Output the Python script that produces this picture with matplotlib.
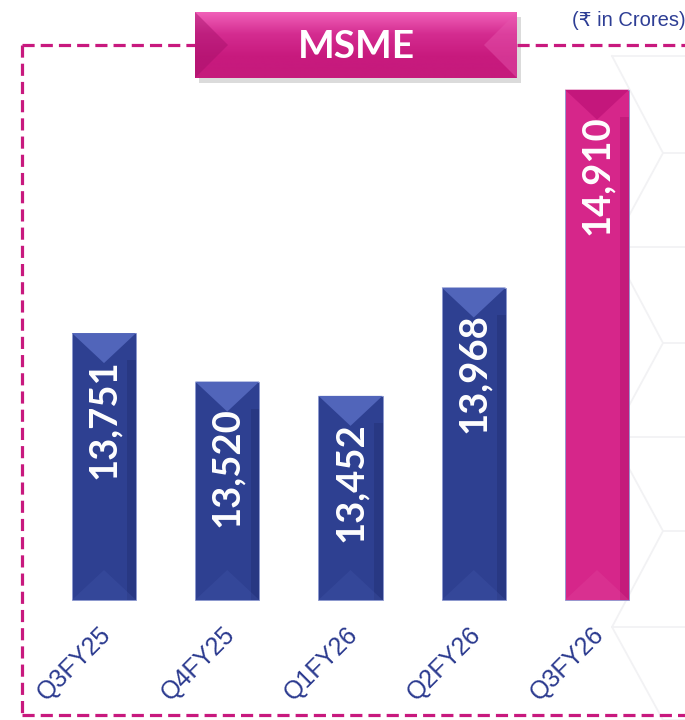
import matplotlib
matplotlib.use('Agg')
import matplotlib.pyplot as plt
import matplotlib.transforms as mtransforms
from matplotlib.patches import Rectangle, Polygon
import numpy as np

# data (Rs in crores)
quarters = ['Q3FY25', 'Q4FY25', 'Q1FY26', 'Q2FY26', 'Q3FY26']
msme = [13751, 13520, 13452, 13968, 14910]

navy = '#2E4091'
pink = '#D6268A'
bar_colors = [navy, navy, navy, navy, pink]
top_colors = ['#5165BA', '#5165BA', '#5165BA', '#5165BA', '#C4177C']
side_colors = ['#24347A', '#24347A', '#24347A', '#24347A', '#B81472']
foot_colors = ['#4558AC', '#4558AC', '#4558AC', '#4558AC', '#E04A9E']

W, H = 685, 720
fig = plt.figure(figsize=(W / 100, H / 100), dpi=100)

# faint hexagon pattern in the background (pixel coords)
bg = fig.add_axes([0, 0, 1, 1], zorder=0)
bg.set_xlim(0, W)
bg.set_ylim(H, 0)
bg.axis('off')
hex_y = [56, 153, 247, 343, 437, 531, 627, 720]
hex_x = [612, 663, 612, 663, 612, 663, 612, 663]
bg.plot(hex_x, hex_y, color='#F2F2F4', lw=1.3)
for hx, hy in zip(hex_x, hex_y):
    bg.plot([hx, W], [hy, hy], color='#F2F2F4', lw=1.3)

# data axes covering the whole figure
ax = fig.add_axes([0, 0, 1, 1], zorder=1)
ax.axis('off')
ax.patch.set_alpha(0)
step = 123.25       # px between bars
x0 = 104            # px centre of first bar
ax.set_xlim(-x0 / step, (W - x0) / step)
base = 12480
ppu = 0.21          # px per crore
ax.set_ylim(base - (H - 600) / ppu, base + 600 / ppu)

xs = np.arange(len(quarters))
bw = 0.52
ax.bar(xs, [v - base for v in msme], bottom=base, width=bw, color=bar_colors,
       edgecolor='#8C98D0', linewidth=0.6, zorder=2)

depth = 30 / ppu
strip = 0.07
for i, v in enumerate(msme):
    # darker right side of the bevel
    ax.add_patch(Rectangle((i + bw / 2 - strip, base), strip, v - base - depth * 0.9,
                           color=side_colors[i], alpha=0.6, lw=0, zorder=3))
    # lighter top bevel
    ax.add_patch(Polygon([(i - bw / 2, v), (i + bw / 2, v), (i, v - depth)],
                         closed=True, color=top_colors[i], lw=0, zorder=3))
    # soft bottom bevel
    ax.add_patch(Polygon([(i - bw / 2, base), (i + bw / 2, base), (i, base + depth)],
                         closed=True, color=foot_colors[i], alpha=0.3, lw=0, zorder=3))
    ax.annotate(f'{v:,}', xy=(i, v), xytext=(0, -26), textcoords='offset pixels',
                rotation=90, ha='center', va='top', color='white', fontsize=27.5,
                fontweight='bold', family='Lato', zorder=5)

trans = mtransforms.blended_transform_factory(ax.transData, fig.transFigure)
for i, q in enumerate(quarters):
    ax.text(i + 0.03, 1 - 631 / H, q, transform=trans, rotation=45,
            rotation_mode='anchor', ha='right', va='center', color='#2B3A8F',
            fontsize=18, family='Liberation Sans')

# decoration layer in pixel coordinates
deco = fig.add_axes([0, 0, 1, 1], zorder=3)
deco.set_xlim(0, W)
deco.set_ylim(H, 0)
deco.axis('off')
deco.patch.set_alpha(0)

border = '#C8197E'
dash = dict(color=border, lw=2.3, linestyle=(0, (3.8, 1.9)))
deco.plot([22, 22], [45, 715], **dash)
deco.plot([22, 195], [45, 45], **dash)
deco.plot([517, 690], [45, 45], **dash)
deco.plot([22, 690], [715, 715], **dash)

# title box
deco.add_patch(Rectangle((199, 17), 322, 66, color='#999999', alpha=0.35, lw=0))
grad = np.linspace(0, 1, 100).reshape(-1, 1)
cmap = matplotlib.colors.LinearSegmentedColormap.from_list(
    'p', ['#F060B8', '#D42C90', '#C81A7E', '#C51A7C'])
deco.imshow(grad, cmap=cmap, extent=(195, 517, 78, 12), aspect='auto', zorder=2)
deco.add_patch(Polygon([(195, 12), (228, 45), (195, 78)], color='#A5106A',
                       alpha=0.45, lw=0, zorder=3))
deco.add_patch(Polygon([(517, 12), (484, 45), (517, 78)], color='#E657AE',
                       alpha=0.45, lw=0, zorder=3))
deco.text(356, 46, 'MSME', ha='center', va='center', color='white',
          fontsize=28, fontweight='bold', family='Lato', zorder=4)

deco.text(572, 21, '(\u20b9 in Crores)', ha='left', va='center', color='#2E3E95',
          fontsize=14.5, family=['Liberation Sans', 'DejaVu Sans'])

fig.savefig('out.png', dpi=100)
